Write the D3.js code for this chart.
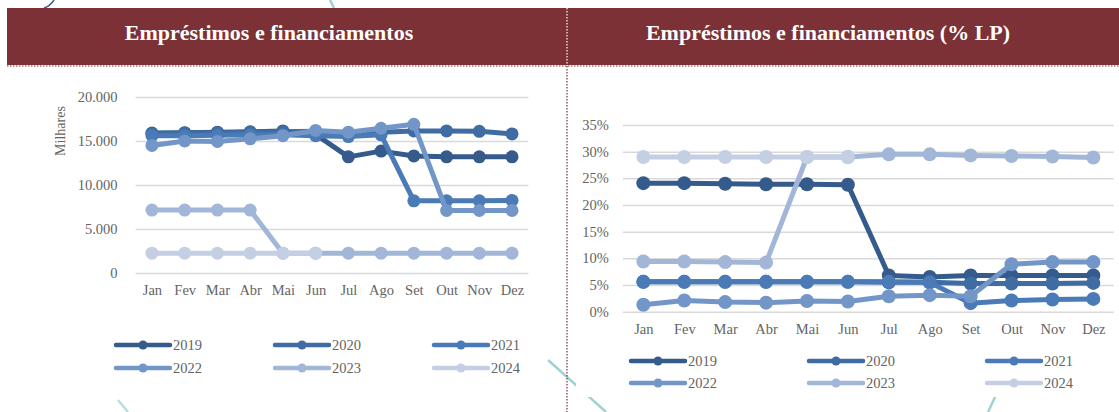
<!DOCTYPE html>
<html><head><meta charset="utf-8">
<script src="https://cdn.jsdelivr.net/npm/d3@7"></script>
<style>html,body{margin:0;padding:0;background:#fff;}svg{display:block;}</style>
</head><body>
<svg id="c" width="1119" height="412"></svg>
<script>
const months = ["Jan","Fev","Mar","Abr","Mai","Jun","Jul","Ago","Set","Out","Nov","Dez"];
const years = ["2019","2020","2021","2022","2023","2024"];
const colors = ["#345b8b","#3f6ca2","#4a7bb7","#7396c8","#a2b6d7","#c4cfe4"];
// Left chart: values in R$ thousands
const emp2019 = [15900,15950,16000,16050,16150,15750,13200,13850,13300,13200,13200,13200];
const emp2020 = [15850,15900,15950,16000,16050,16100,15900,16000,16150,16150,16100,15800];
const emp2021 = [15600,15600,15650,15700,15700,15600,15500,15700,8200,8200,8200,8250];
const emp2022 = [14500,15000,14950,15250,15600,16200,16000,16450,16900,7100,7100,7100];
const emp2023 = [7150,7150,7150,7150,2250,2250,2250,2250,2250,2250,2250,2250];
const emp2024 = [2250,2250,2250,2250,2250,2250,null,null,null,null,null,null];
const leftTicks = [0,5000,10000,15000,20000];
// Right chart: % long term
const lp2019 = [24.1,24.1,24.0,23.9,23.9,23.8,6.8,6.5,6.8,6.8,6.8,6.8];
const lp2020 = [5.6,5.6,5.6,5.6,5.6,5.6,5.5,5.5,5.3,5.3,5.3,5.4];
const lp2021 = [5.6,5.6,5.6,5.6,5.6,5.6,5.6,5.5,1.6,2.1,2.3,2.4];
const lp2022 = [1.3,2.1,1.8,1.7,2.0,1.9,2.9,3.1,2.9,8.9,9.3,9.3];
const lp2023 = [9.4,9.4,9.3,9.2,29.0,29.0,29.5,29.5,29.3,29.2,29.1,28.9];
const lp2024 = [29.0,29.0,29.0,29.0,29.0,29.0,null,null,null,null,null,null];
const rightTicks = [0,5,10,15,20,25,30,35];

const svg = d3.select("#c");
const FONT = "'Liberation Serif','Times New Roman',serif";
const maroon = "#7b3136";
const grey = "#646464";

// decorative background strokes
const deco = svg.append("g").attr("fill","none").attr("stroke","#9fd3d3").attr("stroke-width",2.5);
deco.append("path").attr("d","M548,360 L606,412");
deco.append("path").attr("d","M330,0 L334,8");
deco.append("path").attr("d","M996,395 L988,412");
deco.append("path").attr("d","M118,400 L128,412").attr("stroke","#b8dede");
svg.append("path").attr("d","M54,0 Q50,6 44,8").attr("fill","none").attr("stroke","#3d5a9a").attr("stroke-width",1.5);
// white panel of right chart
svg.append("rect").attr("x",576).attr("y",67).attr("width",543).attr("height",330).attr("fill","#fff");

// header
svg.append("rect").attr("x",7).attr("y",8).attr("width",1112).attr("height",57).attr("fill",maroon);
svg.append("line").attr("x1",7).attr("x2",1119).attr("y1",66).attr("y2",66)
  .attr("stroke",maroon).attr("stroke-width",1.2).attr("stroke-dasharray","1.5,1.5");
svg.append("line").attr("x1",567).attr("x2",567).attr("y1",8).attr("y2",65)
  .attr("stroke","#fff").attr("stroke-width",1.2).attr("stroke-dasharray","1.5,1.5");
svg.append("line").attr("x1",567).attr("x2",567).attr("y1",66).attr("y2",412)
  .attr("stroke",maroon).attr("stroke-width",1.2).attr("stroke-dasharray","1.5,1.5");
svg.append("text").attr("x",269).attr("y",40).attr("text-anchor","middle")
  .attr("font-family",FONT).attr("font-weight","bold").attr("font-size",22).attr("fill","#fff")
  .text("Empréstimos e financiamentos");
svg.append("text").attr("x",828).attr("y",40).attr("text-anchor","middle")
  .attr("font-family",FONT).attr("font-weight","bold").attr("font-size",22).attr("fill","#fff")
  .text("Empréstimos e financiamentos (% LP)");

function chart(cfg){
  const g = svg.append("g");
  const x = d3.scalePoint().domain(months).range(cfg.xr).padding(0.5);
  const y = d3.scaleLinear().domain(cfg.yd).range(cfg.yr);
  const yAxis = d3.axisLeft(y).tickValues(cfg.ticks).tickSize(-(cfg.xr[1]-cfg.xr[0])).tickFormat(cfg.fmt).tickPadding(cfg.tp);
  const ga = g.append("g").attr("transform",`translate(${cfg.xr[0]},0)`).call(yAxis);
  ga.select(".domain").remove();
  ga.selectAll(".tick line").attr("stroke","#d9d9d9").attr("stroke-width",1.5);
  ga.selectAll(".tick text").attr("font-family",FONT).attr("font-size",14.5).attr("fill",grey);
  const xAxis = d3.axisBottom(x).tickSize(0).tickPadding(cfg.xpad);
  const gx = g.append("g").attr("transform",`translate(0,${cfg.yr[0]})`).call(xAxis);
  gx.select(".domain").remove();
  gx.selectAll(".tick text").attr("font-family",FONT).attr("font-size",14.5).attr("fill",grey);
  const line = d3.line().defined(d=>d!=null).x((d,i)=>x(months[i])).y(d=>y(d));
  cfg.series.forEach((s,k)=>{
    g.append("path").datum(s).attr("d",line).attr("fill","none").attr("stroke",colors[k])
      .attr("stroke-width",cfg.lw).attr("stroke-linejoin","round");
    g.append("g").selectAll("circle").data(s.map((v,i)=>({v,i})).filter(d=>d.v!=null)).join("circle")
      .attr("cx",d=>x(months[d.i])).attr("cy",d=>y(d.v)).attr("r",cfg.r).attr("fill",colors[k]);
  });
  const lg = g.append("g");
  years.forEach((yr,k)=>{
    const col = k%3, row = Math.floor(k/3);
    const lx = cfg.lx[col], ly = cfg.ly[row];
    lg.append("line").attr("x1",lx).attr("x2",lx+cfg.lw2).attr("y1",ly).attr("y2",ly)
      .attr("stroke",colors[k]).attr("stroke-width",4.5).attr("stroke-linecap","round");
    lg.append("circle").attr("cx",lx+cfg.lw2/2).attr("cy",ly).attr("r",4.5).attr("fill",colors[k]);
    lg.append("text").attr("x",lx+cfg.lw2+3).attr("y",ly).attr("dy","0.35em")
      .attr("font-family",FONT).attr("font-size",14.5).attr("fill",grey).text(yr);
  });
  return g;
}

chart({xr:[135.6,528.4], yd:[0,20000], yr:[273,97], ticks:leftTicks,
  fmt:d=>d3.format(",")(d).replace(/,/g,"."), tp:18, xpad:12, lw:5, r:6.5,
  series:[emp2019,emp2020,emp2021,emp2022,emp2023,emp2024],
  lx:[116,275,434], ly:[345,368], lw2:54});
svg.append("text").attr("transform","translate(65,131) rotate(-90)").attr("text-anchor","middle")
  .attr("font-family",FONT).attr("font-size",14).attr("fill",grey).text("Milhares");

chart({xr:[622.9,1113.8], yd:[0,35], yr:[311.7,125], ticks:rightTicks,
  fmt:d=>d+"%", tp:14, xpad:12, lw:5, r:7,
  series:[lp2019,lp2020,lp2021,lp2022,lp2023,lp2024],
  lx:[631,809,987], ly:[361,383], lw2:54});
</script>
</body></html>
